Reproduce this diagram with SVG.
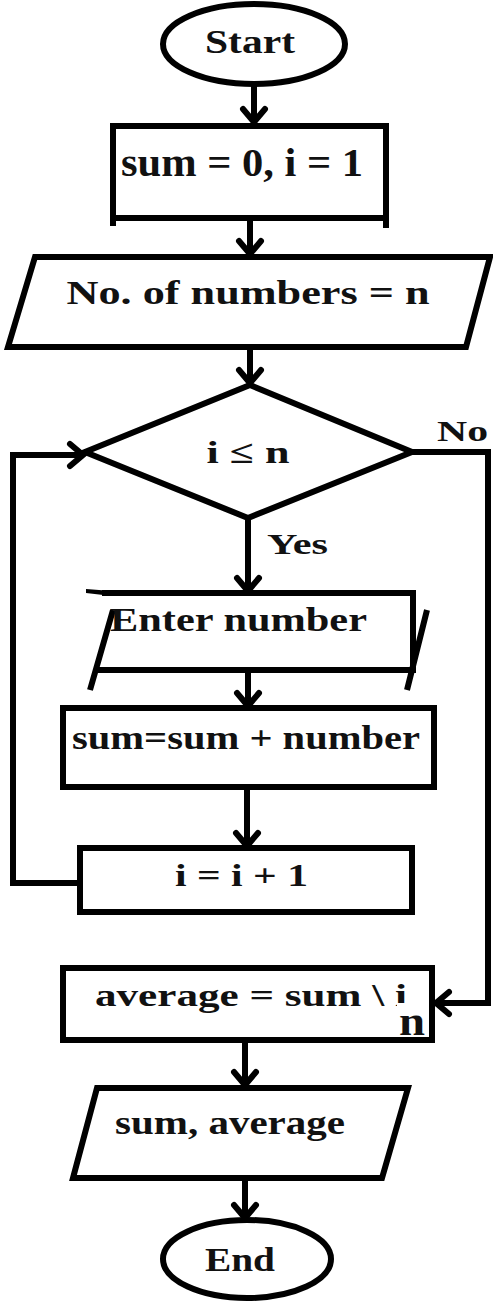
<svg xmlns="http://www.w3.org/2000/svg" width="493" height="1305" viewBox="0 0 493 1305">
<defs>
<style>
.s{fill:#fff;stroke:#000;stroke-width:6;stroke-linejoin:miter}
.l{fill:none;stroke:#000;stroke-width:6}
.c{fill:none;stroke:#000;stroke-width:6;marker-end:url(#ah)}
.t{font-family:"Liberation Serif","Times New Roman",serif;font-weight:bold;fill:#111}
</style>
<marker id="ah" markerUnits="userSpaceOnUse" viewBox="-16 -14 20 28" markerWidth="20" markerHeight="28" refX="0" refY="0" orient="auto" overflow="visible">
<path d="M-13,-11 L0,0 L-13,11" fill="none" stroke="#000" stroke-width="6" stroke-linecap="round"/>
</marker>
</defs>
<rect width="493" height="1305" fill="#fff"/>
<g id="connectors">
<path class="c" d="M254,85 L254,122"/>
<path class="c" d="M250,218 L250,254"/>
<path class="c" d="M250,347 L250,383"/>
<path class="c" d="M248,518 L248,591"/>
<path class="c" d="M248,670 L248,706"/>
<path class="c" d="M247,787 L247,846"/>
<path class="c" d="M80,883 L13,883 L13,455 L83,455"/>
<path class="c" d="M412,452 L488,452 L488,1003 L436,1003"/>
<path class="c" d="M245,1040 L245,1085"/>
<path class="c" d="M245,1178 L245,1218"/>
</g>
<g id="start">
<ellipse class="s" cx="254" cy="44" rx="91" ry="40"/>
<text class="t" x="250" y="53" font-size="34" text-anchor="middle" textLength="90" lengthAdjust="spacingAndGlyphs">Start</text>
</g>
<g id="init">
<rect class="s" x="113" y="126" width="273" height="92"/>
<path class="l" d="M113,215 L113,226 M386,215 L386,228"/>
<text class="t" x="242" y="176" font-size="40" text-anchor="middle" textLength="242" lengthAdjust="spacingAndGlyphs">sum = 0, i = 1</text>
</g>
<g id="input-n">
<polygon class="s" points="35,257 490,257 466,347 8,347"/>
<text class="t" x="248" y="304" font-size="34" text-anchor="middle" textLength="363" lengthAdjust="spacingAndGlyphs">No. of numbers = n</text>
</g>
<g id="decision">
<polygon class="s" points="250,385 412,452 248,518 85,452"/>
<text class="t" x="248" y="463" font-size="32" text-anchor="middle" textLength="83" lengthAdjust="spacingAndGlyphs">i ≤ n</text>
<text class="t" x="437" y="441" font-size="30" textLength="51" lengthAdjust="spacingAndGlyphs">No</text>
<text class="t" x="267" y="554" font-size="30" textLength="61" lengthAdjust="spacingAndGlyphs">Yes</text>
</g>
<g id="enter-number">
<path class="s" d="M102,593 L413,593 L413,670 L98,670"/>
<path d="M86,589 L112,591 L112,596 L86,593 Z" fill="#000"/>
<path class="l" d="M113,610 L90,690 M427,610 L407,690"/>
<text class="t" x="110" y="631" font-size="34" textLength="257" lengthAdjust="spacingAndGlyphs">Enter number</text>
</g>
<g id="accumulate">
<rect class="s" x="63" y="708" width="371" height="79"/>
<text class="t" x="72" y="749" font-size="34" textLength="348" lengthAdjust="spacingAndGlyphs">sum=sum + number</text>
</g>
<g id="increment">
<rect class="s" x="80" y="848" width="332" height="64"/>
<text class="t" x="175" y="886" font-size="32" textLength="133" lengthAdjust="spacingAndGlyphs">i = i + 1</text>
</g>
<g id="average">
<rect class="s" x="63" y="968" width="369" height="72"/>
<text class="t" x="95" y="1006" font-size="32" textLength="312" lengthAdjust="spacingAndGlyphs">average = sum \ i</text>
<rect x="397" y="1003" width="29" height="34" fill="#fff"/>
<text class="t" x="399" y="1035" font-size="40" fill="#000" textLength="26" lengthAdjust="spacingAndGlyphs">n</text>
</g>
<g id="output">
<polygon class="s" points="97,1088 408,1088 382,1178 73,1178"/>
<text class="t" x="115" y="1134" font-size="34" textLength="230" lengthAdjust="spacingAndGlyphs">sum, average</text>
</g>
<g id="end">
<ellipse class="s" cx="247" cy="1259" rx="84" ry="39"/>
<text class="t" x="240" y="1271" font-size="34" text-anchor="middle" textLength="70" lengthAdjust="spacingAndGlyphs">End</text>
</g>
</svg>
